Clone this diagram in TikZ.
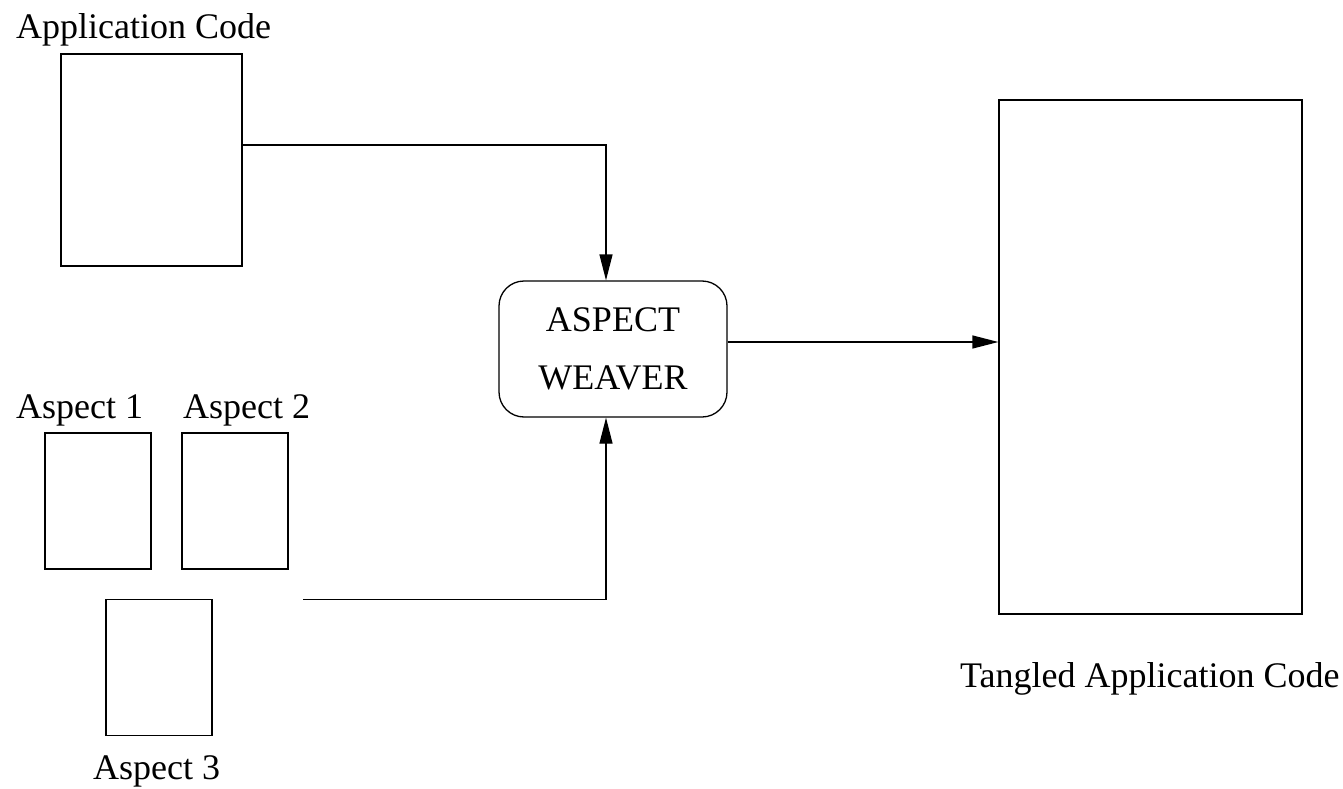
\documentclass[tikz,border=0pt]{standalone}
\usepackage{fontspec}
\setmainfont{Liberation Serif}
\usetikzlibrary{arrows.meta}
\begin{document}
\begin{tikzpicture}[x=1pt,y=-1pt,
  box/.style={draw,line width=1.3pt,inner sep=0pt},
  lbl/.style={inner sep=0pt,anchor=base west,font=\fontsize{36}{43}\selectfont},
  conn/.style={line width=1.3pt,-{Triangle[length=26pt,width=13pt]}}]
\useasboundingbox (0,0) rectangle (1343,789);
\node[lbl] (lapp) at (16,39) {Application Code};
\node[box,minimum width=181pt,minimum height=212pt] (app) at (151.5,160) {};
\node[box,rounded corners=25pt,minimum width=228pt,minimum height=136pt,
      align=center,font=\fontsize{36}{58}\selectfont] (weaver) at (613,349) {ASPECT\\WEAVER};
\node[box,minimum width=303pt,minimum height=514pt] (tangled) at (1150.5,357) {};
\node[lbl] (ltangled) at (960,687) {Tangled Application Code};
\node[lbl] (la1) at (16,418) {Aspect 1};
\node[lbl] (la2) at (183,418) {Aspect 2};
\node[box,minimum width=106pt,minimum height=136pt] (a1) at (98,501) {};
\node[box,minimum width=106pt,minimum height=136pt] (a2) at (235,501) {};
\node[box,minimum width=106pt,minimum height=136pt] (a3) at (159,667.5) {};
\node[lbl] (la3) at (93,779) {Aspect 3};
\coordinate (aspout) at (303,599.5);
\draw[conn] ([yshift=15pt]app.east) -| ([xshift=-7pt]weaver.north);
\draw[conn] (aspout) -| ([xshift=-7pt]weaver.south);
\draw[conn] ([yshift=7pt]weaver.east) -- ([yshift=7pt]weaver.east -| tangled.west);
\end{tikzpicture}
\end{document}
